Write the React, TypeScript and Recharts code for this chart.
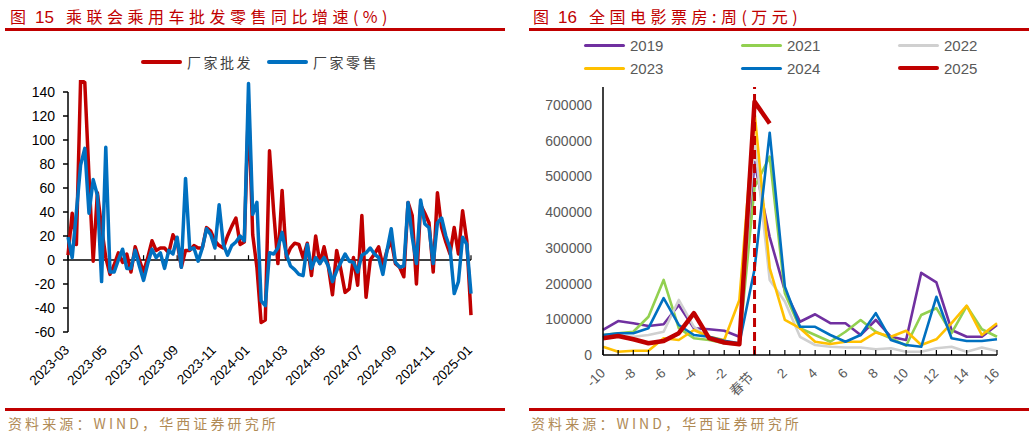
import { LineChart, Line, XAxis, YAxis, ReferenceLine } from "recharts";

// ---------- 图15：乘联会乘用车批发零售同比增速（周度，%） ----------
const monthLabels = [
  "2023-03", "2023-04", "2023-05", "2023-06", "2023-07", "2023-08", "2023-09", "2023-10",
  "2023-11", "2023-12", "2024-01", "2024-02", "2024-03", "2024-04", "2024-05", "2024-06",
  "2024-07", "2024-08", "2024-09", "2024-10", "2024-11", "2024-12", "2025-01",
];
const weeksInMonth = [5, 4, 5, 4, 4, 4, 5, 4, 4, 4, 5, 4, 5, 4, 5, 4, 4, 4, 5, 4, 5, 4, 1];
const leftTickMonths = [
  "2023-03", "2023-05", "2023-07", "2023-09", "2023-11", "2024-01",
  "2024-03", "2024-05", "2024-07", "2024-09", "2024-11", "2025-01",
];
const leftYTicks = [-60, -40, -20, 0, 20, 40, 60, 80, 100, 120, 140];

// 厂家批发
const wholesaleYoY = [
  4, 39, 13, 150, 148, 70, -1, 56, 27, 2,
  -12, -4, 6, -2, 5, -10, 11, 0, -10, 2,
  16, 8, 10, 10, 6, 21, 15, -6, 8, 8,
  12, 10, 10, 27, 24, 16, 12, 10, 20, 28,
  35, 13, 15, 130, 21, -6, -52, -50, 91, 40,
  -3, 58, 2, 10, 14, 13, 2, 14,
  -13, 20, -3, 11, -5, -29, 8, -8, -27, -24,
  2, -21, 37, -31, 0, 5, 11, -5, 8, 16,
  -3, -6, -14, 48, 37, -20, 46, 39, 31, -10,
  56, 27, 15, 5, 27, 5, 41, 16, -46,
];
// 厂家零售
const retailYoY = [
  19, 2, 40, 79, 93, 39, 67, 54, -18, 94,
  -10, -10, 0, 9, -7, -7, 8, -5, -17, -3,
  9, 2, 6, -7, 8, 5, 19, -6, 68, 9,
  10, -1, 10, 26, 21, 10, 46, 13, 4, 12,
  15, 20, 16, 147, 38, 48, -34, -38, 6, 5,
  10, 23, 5, -5, -8, -12, -13, 13,
  -7, 2, -3, 2, -5, -18, -9, -2, 5, -1,
  -2, -10, 4, 6, 10, 5, 2, -12, 8, 26,
  -2, -6, -5, 48, 19, -3, 50, 30, 27, -3,
  31, 35, 20, 10, -28, -18, 19, 13, -28,
];

// ---------- 图16：全国电影票房：周（万元） ----------
const weekCats = [
  "-10", "-9", "-8", "-7", "-6", "-5", "-4", "-3", "-2", "-1", "春节",
  "1", "2", "3", "4", "5", "6", "7", "8", "9", "10", "11", "12", "13", "14", "15", "16",
];
const weekTickLabels = ["-10", "-8", "-6", "-4", "-2", "春节", "2", "4", "6", "8", "10", "12", "14", "16"];
const rightYTicks = [0, 100000, 200000, 300000, 400000, 500000, 600000, 700000];

const box2019 = [70000, 95000, 89000, 81000, 86000, 140000, 75000, 72000, 68000, 51000, 540000, 330000, 180000, 93000, 114000, 89000, 89000, 56000, 98000, 51000, 42000, 230000, 203000, 70000, 51000, 51000, 84000];
const box2021 = [56000, 61000, 65000, 107000, 210000, 75000, 47000, 42000, 33000, 33000, 470000, 555000, 173000, 75000, 56000, 37000, 65000, 98000, 65000, 47000, 26000, 112000, 131000, 61000, 137000, 72000, 51000];
const box2022 = [51000, 53000, 51000, 56000, 65000, 154000, 79000, 47000, 33000, 28000, 600000, 210000, 150000, 51000, 28000, 23000, 21000, 21000, 16000, 19000, 9000, 9000, 19000, 23000, 9000, 21000, 11000];
const box2023 = [23000, 9000, 12000, 12000, 47000, 42000, 70000, 51000, 42000, 154000, 680000, 243000, 98000, 75000, 37000, 31000, 37000, 37000, 63000, 51000, 68000, 28000, 44000, 89000, 138000, 56000, 89000];
const box2024 = [56000, 61000, 61000, 75000, 159000, 84000, 56000, 51000, 40000, 33000, 240000, 622000, 191000, 79000, 79000, 56000, 37000, 56000, 117000, 42000, 28000, 23000, 163000, 47000, 39000, 39000, 44000];
const box2025 = [47000, 53000, 44000, 33000, 39000, 61000, 117000, 47000, 35000, 30000, 709000, 648000];

const boxSeries = [
  { key: "y2019", name: "2019", color: "#7030A0", width: 2.6, values: box2019 },
  { key: "y2021", name: "2021", color: "#92D050", width: 2.6, values: box2021 },
  { key: "y2022", name: "2022", color: "#D0D0D0", width: 2.6, values: box2022 },
  { key: "y2023", name: "2023", color: "#FFC000", width: 2.6, values: box2023 },
  { key: "y2024", name: "2024", color: "#0070C0", width: 2.6, values: box2024 },
  { key: "y2025", name: "2025", color: "#C00000", width: 4.5, values: box2025 },
];

const leftCats: string[] = [];
monthLabels.forEach((m, i) => {
  for (let w = 1; w <= weeksInMonth[i]; w++) leftCats.push(`${m}-W${w}`);
});
const leftData = leftCats.map((week, i) => ({
  week,
  wholesale: wholesaleYoY[i],
  retail: retailYoY[i],
}));
const leftTickSet = new Set(leftTickMonths.map((m) => `${m}-W1`));

const rightData = weekCats.map((week, i) => {
  const row: Record<string, string | number | null> = { week };
  boxSeries.forEach((s) => {
    row[s.key] = i < s.values.length ? s.values[i] : null;
  });
  return row;
});
const rightTickSet = new Set(weekTickLabels);

const SANS = "'Liberation Sans', Arial, 'Noto Sans CJK SC', sans-serif";
const CJK = "'Noto Sans CJK SC', 'Liberation Sans', sans-serif";
const RED = "#C00000";
const BLUE = "#0070C0";
const SOURCE = "#B08A55";

const LeftTick = (props: any) => {
  const { x, y, payload } = props;
  if (!leftTickSet.has(payload.value)) return <g />;
  const ax = x + 2;
  const ay = y + 19;
  return (
    <text x={ax} y={ay} transform={`rotate(-45 ${ax} ${ay})`} textAnchor="end" fontSize={13.5} fill="#000" fontFamily={SANS}>
      {String(payload.value).slice(0, 7)}
    </text>
  );
};

const RightTick = (props: any) => {
  const { x, y, payload } = props;
  const label = String(payload.value);
  const show = rightTickSet.has(label);
  const isFest = label === "春节";
  const ax = x + (isFest ? 0 : 3);
  const ay = y + (isFest ? 23 : 19);
  return (
    <g>
      <line x1={x} x2={x} y1={y} y2={y - 5} stroke="#000" strokeWidth={1.2} />
      {show && (
        <text x={ax} y={ay} transform={`rotate(-45 ${ax} ${ay})`} textAnchor="end" fontSize={13.5} fill="#595959" fontFamily={isFest ? CJK : SANS}>
          {label}
        </text>
      )}
    </g>
  );
};

const Title = ({ left, fig, text }: { left: number; fig: string; text: string }) => (
  <div style={{ position: "absolute", left, top: 5, height: 22, lineHeight: "22px", color: RED, fontFamily: CJK, fontSize: 16, whiteSpace: "nowrap" }}>
    <span>图</span>
    <span style={{ fontFamily: SANS, fontSize: 17, margin: "0 12px 0 9px" }}>{fig}</span>
    <span style={{ letterSpacing: 4.5 }}>{text}</span>
  </div>
);

const Rule = ({ left, top, width }: { left: number; top: number; width: number }) => (
  <div style={{ position: "absolute", left, top, width, height: 3, background: RED }} />
);

const Source = ({ left }: { left: number }) => (
  <div style={{ position: "absolute", left, top: 413, lineHeight: "20px", color: SOURCE, fontFamily: CJK, fontSize: 14, letterSpacing: 3.1, whiteSpace: "nowrap" }}>
    资料来源：WIND，华西证券研究所
  </div>
);

const LegendItem = ({ left, top, color, width, label, textStyle }: any) => (
  <div style={{ position: "absolute", left, top, height: 20, display: "flex", alignItems: "center", whiteSpace: "nowrap" }}>
    <div style={{ width: 41, height: width, background: color, borderRadius: 2 }} />
    <span style={{ marginLeft: 5, ...textStyle }}>{label}</span>
  </div>
);

export default function App() {
  const leftLegendText = { fontFamily: CJK, fontSize: 14, letterSpacing: 2.5, color: "#404040" };
  const rightLegendText = { fontFamily: SANS, fontSize: 15, color: "#595959" };
  const legendPos = [
    { left: 584, top: 35 },
    { left: 741, top: 35 },
    { left: 898, top: 35 },
    { left: 584, top: 58 },
    { left: 741, top: 58 },
    { left: 898, top: 58 },
  ];

  return (
    <div style={{ position: "absolute", left: 0, top: 0, width: 1035, height: 438, background: "#fff", overflow: "hidden" }}>
      <Title left={10} fig="15" text="乘联会乘用车批发零售同比增速(%)" />
      <Rule left={5} top={28} width={500} />
      <Title left={533} fig="16" text="全国电影票房:周(万元)" />
      <Rule left={529} top={28} width={500} />

      <LegendItem left={141} top={52} color={RED} width={4} label="厂家批发" textStyle={leftLegendText} />
      <LegendItem left={267} top={52} color={BLUE} width={4} label="厂家零售" textStyle={leftLegendText} />

      {boxSeries.map((s, i) => (
        <LegendItem key={s.key} left={legendPos[i].left} top={legendPos[i].top} color={s.color} width={s.width > 3 ? 4.5 : 3} label={s.name} textStyle={rightLegendText} />
      ))}

      <div style={{ position: "absolute", left: 0, top: 0 }}>
        {/* domain runs to 150 so spikes above 140 stay visible, as in the original; axis line stops at 140 */}
        <LineChart width={520} height={438} data={leftData} margin={{ top: 80, right: 49, bottom: 46, left: 8 }}>
          <XAxis
            dataKey="week"
            interval={0}
            axisLine={false}
            tickLine={false}
            tickSize={0}
            tickMargin={0}
            height={60}
            tick={(p: any) => <LeftTick {...p} />}
          />
          <YAxis
            type="number"
            domain={[-60, 150]}
            ticks={leftYTicks}
            allowDataOverflow
            width={60}
            tickSize={5}
            tickMargin={8}
            axisLine={false}
            tickLine={{ stroke: "#000", strokeWidth: 1.5 }}
            tick={{ fontSize: 14, fill: "#000", fontFamily: SANS }}
          />
          <ReferenceLine
            segment={[
              { x: leftCats[0], y: -60 },
              { x: leftCats[0], y: 140 },
            ]}
            stroke="#000"
            strokeWidth={1.5}
          />
          <ReferenceLine y={0} stroke="#000" strokeWidth={1.5} />
          {leftTickMonths.map((m) => (
            <ReferenceLine
              key={m}
              segment={[
                { x: `${m}-W1`, y: 0 },
                { x: `${m}-W1`, y: 4 },
              ]}
              stroke="#000"
              strokeWidth={1.2}
            />
          ))}
          <Line dataKey="wholesale" name="厂家批发" stroke={RED} strokeWidth={3.5} dot={false} isAnimationActive={false} strokeLinejoin="round" />
          <Line dataKey="retail" name="厂家零售" stroke={BLUE} strokeWidth={3.5} dot={false} isAnimationActive={false} strokeLinejoin="round" />
        </LineChart>
      </div>

      <div style={{ position: "absolute", left: 520, top: 0 }}>
        <LineChart width={515} height={438} data={rightData} margin={{ top: 87, right: 38, bottom: 23, left: 8 }}>
          <XAxis
            dataKey="week"
            interval={0}
            axisLine={{ stroke: "#000", strokeWidth: 1.5 }}
            tickLine={false}
            tickSize={0}
            tickMargin={0}
            height={60}
            tick={(p: any) => <RightTick {...p} />}
          />
          <YAxis
            type="number"
            domain={[0, 750000]}
            ticks={rightYTicks}
            width={75}
            tickLine={false}
            tickSize={0}
            tickMargin={11}
            axisLine={{ stroke: "#000", strokeWidth: 1.5 }}
            tick={{ fontSize: 14, fill: "#595959", fontFamily: SANS }}
          />
          {boxSeries.map((s) => (
            <Line
              key={s.key}
              dataKey={s.key}
              name={s.name}
              stroke={s.color}
              strokeWidth={s.width}
              dot={false}
              isAnimationActive={false}
              strokeLinejoin="round"
            />
          ))}
          <ReferenceLine x="春节" stroke={RED} strokeWidth={3} strokeDasharray="9 5" />
        </LineChart>
      </div>

      <Rule left={5} top={408} width={500} />
      <Rule left={529} top={408} width={500} />
      <Source left={8} />
      <Source left={531} />
    </div>
  );
}
